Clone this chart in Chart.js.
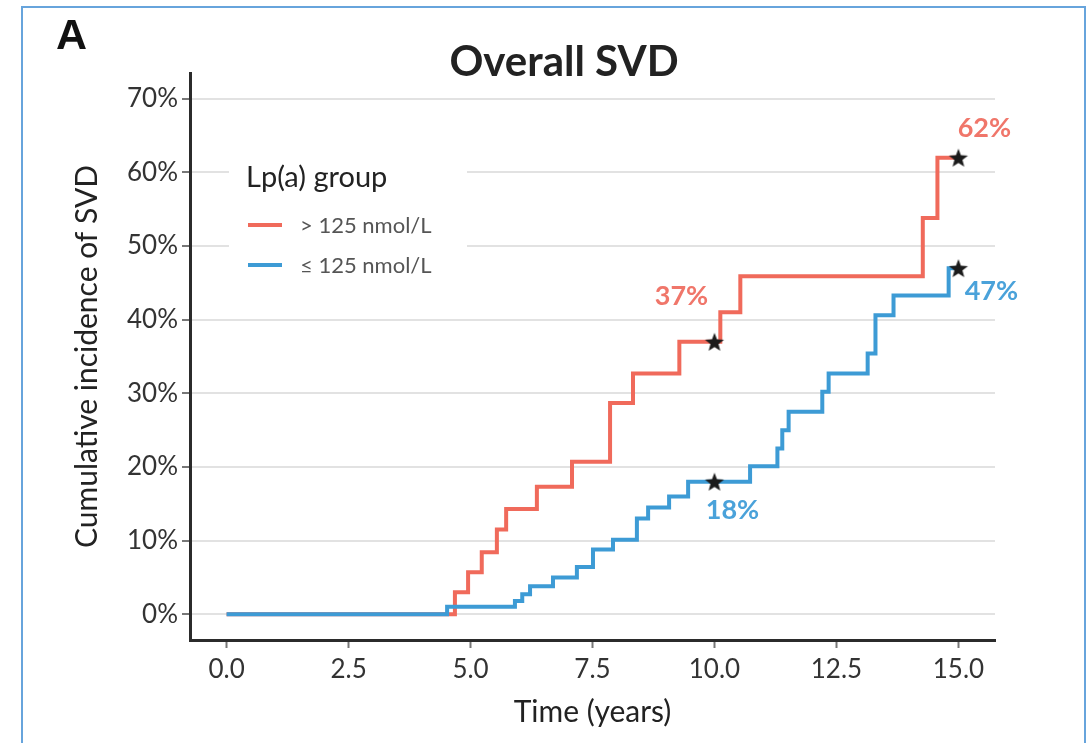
<!DOCTYPE html>
<html>
<head>
<meta charset="utf-8">
<title>Overall SVD</title>
<script src="https://cdn.jsdelivr.net/npm/chart.js@4.4.1/dist/chart.umd.min.js"></script>
<style>
  html, body { margin: 0; padding: 0; background: #fff; overflow: hidden; }
  #wrap { position: relative; width: 1092px; height: 743px; }
  #frame { position: absolute; left: 21px; top: 6px; width: 1061px; height: 780px;
           border: 2px solid #67a4dc; pointer-events: none; }
</style>
</head>
<body>
<div id="wrap">
  <canvas id="chart" width="1092" height="743"></canvas>
  <div id="frame"></div>
</div>
<script>
// cumulative incidence, Lp(a) > 125 nmol/L
const highTime = [0, 4.68, 4.95, 5.23, 5.54, 5.73, 6.36, 7.08, 7.86, 8.33, 9.28, 10.12, 10.53, 14.27, 14.57, 15.0];
const highRisk = [0, 3.0, 5.7, 8.4, 11.5, 14.3, 17.3, 20.7, 28.7, 32.7, 37, 41.0, 45.9, 53.8, 62, 62];

// cumulative incidence, Lp(a) <= 125 nmol/L
const lowTime = [0, 4.52, 5.91, 6.06, 6.22, 6.69, 7.18, 7.51, 7.92, 8.41, 8.64, 9.07, 9.46, 10.73,
                 11.29, 11.39, 11.52, 12.21, 12.34, 13.14, 13.30, 13.67, 14.80, 15.0];
const lowRisk = [0, 1.0, 1.8, 2.7, 3.8, 5.0, 6.4, 8.8, 10.1, 13.0, 14.5, 16.0, 18, 20.1,
                 22.5, 25.0, 27.5, 30.2, 32.7, 35.4, 40.6, 43.3, 47, 47];

const groupLabels = ['> 125 nmol/L', '\u2264 125 nmol/L'];

// 10- and 15-year estimates
const markTime = [10, 15, 10, 15];
const markRisk = [37, 62, 18, 47];
const markGroup = [0, 0, 1, 1];

const xTicks = [0, 2.5, 5, 7.5, 10, 12.5, 15];
const yTicks = [0, 10, 20, 30, 40, 50, 60, 70];

const RED = '#f06a5b';
const BLUE = '#3d9bd5';
const LABEL_COLORS = ['#f0766a', '#4aa2da'];
const FONT = 'Lato, "Open Sans", sans-serif';

function toPoints(xs, ys) {
  return xs.map((x, i) => ({ x: x, y: ys[i] }));
}

function makeStar(size, color) {
  const c = document.createElement('canvas');
  c.width = c.height = size;
  const g = c.getContext('2d');
  const cx = size / 2, cy = size / 2 + 1, R = size / 2 - 1, r = R * 0.42;
  g.beginPath();
  for (let i = 0; i < 10; i++) {
    const a = -Math.PI / 2 + i * Math.PI / 5;
    const rad = i % 2 ? r : R;
    g.lineTo(cx + rad * Math.cos(a), cy + rad * Math.sin(a));
  }
  g.closePath();
  g.fillStyle = color;
  g.fill();
  return c;
}

// title, panel letter, legend and the percentage labels next to the stars
const decorations = {
  id: 'decorations',
  beforeDatasetsDraw(chart) {
    const ctx = chart.ctx;
    ctx.save();
    ctx.fillStyle = '#fff';
    ctx.fillRect(229, 150, 238, 135);

    ctx.fillStyle = '#222';
    ctx.font = '29px ' + FONT;
    ctx.textBaseline = 'middle';
    ctx.textAlign = 'left';
    ctx.fillText('Lp(a) group', 246, 178);

    const rows = [225, 265];
    chart.data.datasets.slice(1, 3).forEach((ds, i) => {
      ctx.strokeStyle = ds.borderColor;
      ctx.lineWidth = 4;
      ctx.beginPath();
      ctx.moveTo(248, rows[i]);
      ctx.lineTo(282, rows[i]);
      ctx.stroke();
      ctx.fillStyle = '#555';
      ctx.font = '22px ' + FONT;
      ctx.fillText(ds.label, 300, rows[i] + 1);
    });
    ctx.restore();
  },
  afterDatasetsDraw(chart) {
    const ctx = chart.ctx;
    const shift = [[-33, -45], [26, -29], [18, 29], [33, 23]];
    const pts = chart.getDatasetMeta(0).data;
    ctx.save();
    ctx.font = 'bold 27px ' + FONT;
    ctx.textAlign = 'center';
    ctx.textBaseline = 'middle';
    pts.forEach((p, i) => {
      ctx.fillStyle = LABEL_COLORS[markGroup[i]];
      ctx.fillText(markRisk[i] + '%', p.x + shift[i][0], p.y + shift[i][1]);
    });
    ctx.restore();
  },
  afterDraw(chart) {
    const ctx = chart.ctx;
    ctx.save();
    ctx.fillStyle = '#111';
    ctx.textBaseline = 'alphabetic';
    ctx.textAlign = 'left';
    ctx.font = 'bold 43px "Liberation Sans", Arial, sans-serif';
    ctx.fillText('A', 56, 49);
    ctx.textAlign = 'center';
    ctx.fillStyle = '#222';
    ctx.font = 'bold 42px ' + FONT;
    ctx.fillText('Overall SVD', 564, 76);
    ctx.restore();
  }
};

const starImg = makeStar(22, '#1b1b1b');

new Chart(document.getElementById('chart'), {
  type: 'line',
  data: {
    datasets: [
      {
        type: 'scatter',
        label: 'estimate',
        data: toPoints(markTime, markRisk),
        pointStyle: starImg,
        showLine: false,
        order: 0
      },
      {
        label: groupLabels[0],
        data: toPoints(highTime, highRisk),
        borderColor: RED,
        borderWidth: 4,
        stepped: true,
        pointRadius: 0,
        order: 2
      },
      {
        label: groupLabels[1],
        data: toPoints(lowTime, lowRisk),
        borderColor: BLUE,
        borderWidth: 4,
        stepped: true,
        pointRadius: 0,
        order: 1
      }
    ]
  },
  options: {
    responsive: false,
    animation: false,
    layout: { padding: { left: 0, top: 73, right: 97, bottom: 0 } },
    plugins: {
      legend: { display: false },
      title: { display: false },
      tooltip: { enabled: false }
    },
    scales: {
      x: {
        type: 'linear',
        min: -0.75,
        max: 15.75,
        afterBuildTicks: s => { s.ticks = xTicks.map(v => ({ value: v })); },
        afterFit: s => { s.height = 103; },
        grid: { drawOnChartArea: false, tickLength: 8, tickColor: '#777', tickWidth: 2 },
        border: { color: '#2b2b2b', width: 3 },
        ticks: {
          padding: 6,
          color: '#333',
          font: { size: 26, family: FONT },
          maxRotation: 0,
          callback: v => Number(v).toFixed(1)
        },
        title: {
          display: true,
          text: 'Time (years)',
          color: '#222',
          font: { size: 30, family: FONT },
          padding: { top: 0, bottom: 13 }
        }
      },
      y: {
        min: -3.5,
        max: 73.5,
        afterBuildTicks: s => { s.ticks = yTicks.map(v => ({ value: v })); },
        afterFit: s => { s.width = 190; },
        grid: { color: '#e2e2e2', lineWidth: 2, tickLength: 8, tickColor: '#777', tickWidth: 2 },
        border: { color: '#2b2b2b', width: 3 },
        ticks: {
          padding: 4,
          color: '#333',
          font: { size: 26, family: FONT },
          callback: v => v + '%'
        },
        title: {
          display: true,
          text: 'Cumulative incidence of SVD',
          color: '#222',
          font: { size: 30, family: FONT },
          padding: { top: 69, bottom: 0 }
        }
      }
    }
  },
  plugins: [decorations]
});
</script>
</body>
</html>
